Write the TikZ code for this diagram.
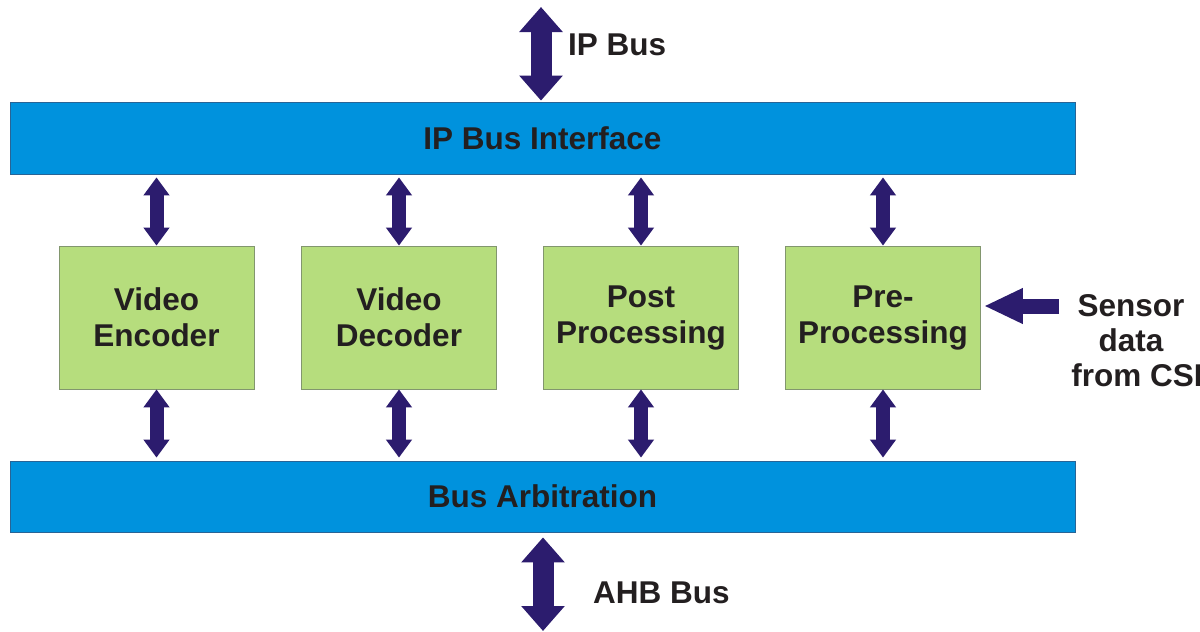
\documentclass[tikz,border=0pt]{standalone}
\usepackage{fontspec}
\setmainfont{Liberation Sans}
\usetikzlibrary{arrows.meta}
\definecolor{barblue}{RGB}{0,146,221}
\definecolor{barline}{RGB}{40,100,150}
\definecolor{boxgreen}{RGB}{182,221,125}
\definecolor{boxline}{RGB}{130,150,110}
\definecolor{navy}{RGB}{44,28,110}
\definecolor{txt}{RGB}{35,31,32}
\tikzset{
  lbl/.style={text=txt, font=\fontsize{31.5}{36}\selectfont\bfseries, inner sep=0pt},
  bar/.style={lbl, fill=barblue, draw=barline, line width=0.8pt, minimum width=1065pt, minimum height=72pt},
  unit/.style={lbl, fill=boxgreen, draw=boxline, line width=0.8pt, minimum width=195pt, minimum height=143pt, align=center},
  smallarr/.style={navy, line width=14pt, {Triangle[width=25pt,length=18pt]}-{Triangle[width=25pt,length=18pt]}},
  bigarr/.style={navy, line width=21pt, {Triangle[width=42pt,length=25pt]}-{Triangle[width=42pt,length=25pt]}},
  sensarr/.style={navy, line width=15pt, -{Triangle[width=33pt,length=39pt]}}
}
\begin{document}
\begin{tikzpicture}[x=1pt,y=-1pt]
\useasboundingbox (0,0) rectangle (1200,632);
\fill[white] (0,0) rectangle (1200,632);
\node[bar] (ipbi) at (542.5,138) {IP Bus Interface};
\node[bar, minimum height=71pt] (arb) at (542.5,496.5) {Bus Arbitration};
\node[unit] (enc) at (156.5,317.5) {Video\\Encoder};
\node[unit] (dec) at (399,317.5) {Video\\Decoder};
\node[unit] (post) at (641,317.5) {Post\\Processing};
\node[unit] (pre) at (883,317.5) {Pre-\\Processing};
\foreach \b in {enc,dec,post,pre}{
  \draw[smallarr] ([yshift=-3pt]ipbi.south -| \b) -- (\b.north);
  \draw[smallarr] (\b.south) -- ([yshift=3pt]arb.north -| \b);
}
\coordinate (ipt) at (541,7);
\draw[bigarr] (ipt) -- ([yshift=1pt]ipbi.north -| ipt);
\node[lbl, anchor=west] (iplabel) at (568,45) {IP Bus};
\coordinate (ahb) at (543,631);
\draw[bigarr] ([yshift=-5pt]arb.south -| ahb) -- (ahb);
\node[lbl, anchor=west] (ahblabel) at (593,593) {AHB Bus};
\coordinate (sens) at (1059,306);
\draw[sensarr] (sens) -- ([xshift=3pt]pre.east |- sens);
\node[lbl, align=center, font=\fontsize{31.5}{35}\selectfont\bfseries] (senslabel) at (1131,341) {Sensor\hspace{12pt}\\data\\\hspace{12pt}from CSI};
\end{tikzpicture}
\end{document}
